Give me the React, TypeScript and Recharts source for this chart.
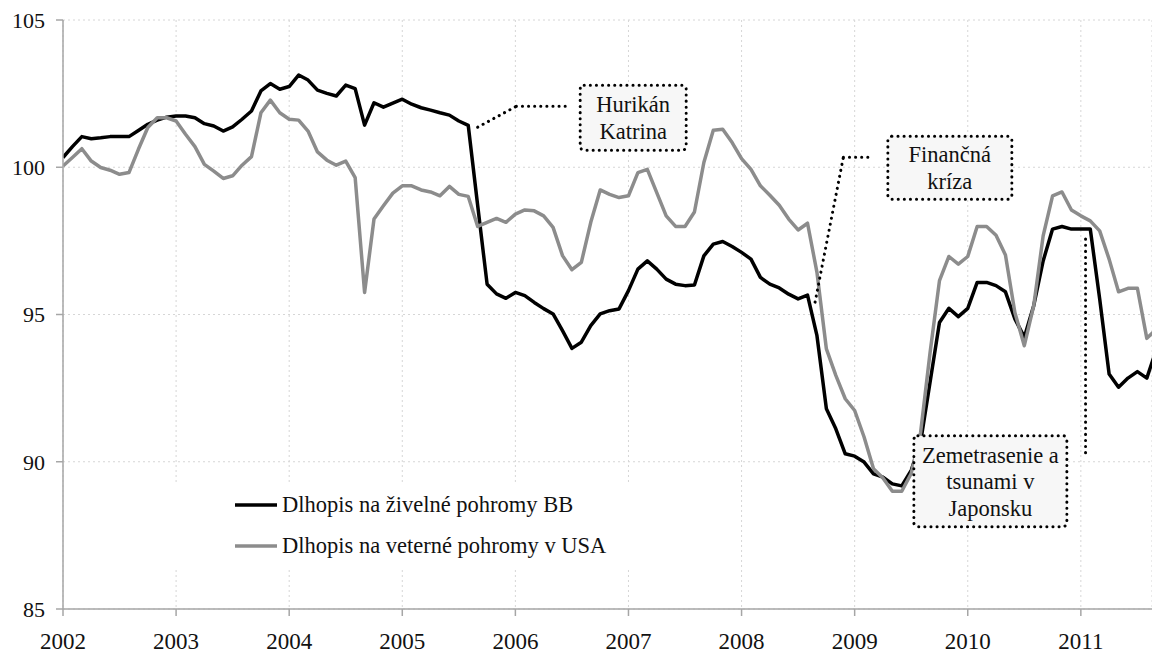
import React from "react";
import {
  LineChart,
  Line,
  XAxis,
  YAxis,
  CartesianGrid,
  Legend,
  ReferenceLine,
  ReferenceDot
} from "recharts";

// tick labels
const years = ["2002", "2003", "2004", "2005", "2006", "2007", "2008", "2009", "2010", "2011"];
const yTicks = [85, 90, 95, 100, 105];

// monthly index values, Jan 2002 onwards
const catBondBB = [
  100.33, 100.7, 101.04, 100.97, 101.0, 101.04, 101.04, 101.04, 101.25, 101.46, 101.6, 101.7,
  101.74, 101.74, 101.68, 101.48, 101.4, 101.23, 101.37, 101.63, 101.91, 102.59, 102.84, 102.65,
  102.74, 103.13, 102.96, 102.62, 102.51, 102.42, 102.79, 102.67, 101.43, 102.19, 102.04, 102.18,
  102.31, 102.14, 102.02, 101.94, 101.85, 101.77, 101.57, 101.42, 98.7, 96.03, 95.7, 95.55,
  95.75, 95.64, 95.41, 95.2, 95.02, 94.45, 93.85, 94.06, 94.62, 95.02, 95.13, 95.19,
  95.81, 96.54, 96.82, 96.54, 96.2, 96.03, 95.98, 96.0, 96.99, 97.39, 97.48, 97.31,
  97.11, 96.88, 96.26, 96.03, 95.9, 95.69, 95.53, 95.66, 94.28, 91.8, 91.12, 90.27,
  90.19, 89.99, 89.59, 89.48, 89.25, 89.18, 89.71, 90.67, 92.7, 94.73, 95.21, 94.93,
  95.21, 96.09, 96.09, 95.98, 95.77, 94.85, 94.23, 95.3, 96.82, 97.9, 97.99, 97.9,
  97.9, 97.9, 95.53, 92.98, 92.53, 92.84, 93.06, 92.84, 93.8
];

const windBondUSA = [
  100.04, 100.33, 100.63, 100.21, 99.99, 99.9, 99.76, 99.82, 100.61, 101.35, 101.68, 101.68,
  101.57, 101.12, 100.7, 100.1, 99.87, 99.62, 99.71, 100.07, 100.36, 101.85, 102.28, 101.85,
  101.63, 101.6, 101.23, 100.52, 100.24, 100.07, 100.21, 99.65, 95.75, 98.24, 98.69, 99.12,
  99.37, 99.37, 99.23, 99.16, 99.03, 99.35, 99.08, 99.01, 97.99, 98.13, 98.26, 98.13,
  98.41, 98.55, 98.52, 98.35, 97.96, 97.0, 96.52, 96.77, 98.13, 99.23, 99.08, 98.97,
  99.03, 99.82, 99.93, 99.14, 98.35, 97.99, 97.99, 98.48, 100.16, 101.26, 101.29, 100.84,
  100.29, 99.93, 99.37, 99.05, 98.71, 98.24, 97.87, 98.1, 96.43, 93.83, 92.93, 92.14,
  91.74, 90.84, 89.76, 89.45, 89.0, 89.0, 89.6, 91.0, 93.7, 96.15, 96.97, 96.71,
  96.97, 97.99, 97.99, 97.69, 97.02, 95.07, 93.94, 95.3, 97.67, 99.03, 99.16, 98.55,
  98.35, 98.18, 97.84, 96.88, 95.77, 95.89, 95.89, 94.19, 94.5
];

const seriesNames = ["Dlhopis na živelné pohromy BB", "Dlhopis na veterné pohromy v USA"];

const data = catBondBB.map((v, i) => ({ m: i, bb: v, usa: windBondUSA[i] }));

// annotation anchors in data units (month index, value)
const katrinaLeader = [[44.0, 101.36], [48.1, 102.07], [53.3, 102.07]];
const crisisLeader = [[79.8, 95.42], [82.8, 100.34], [85.6, 100.34]];
const quakeLeader = [[108.5, 97.56], [108.5, 90.2]];

const notes = [
  { m: 60.5, v: 101.68, lines: ["Hurikán", "Katrina"], w: 106, h: 65 },
  { m: 94.1, v: 99.98, lines: ["Finančná", "kríza"], w: 124, h: 63 },
  { m: 98.4, v: 89.34, lines: ["Zemetrasenie a", "tsunami v", "Japonsku"], w: 153, h: 91 }
];

const FONT = '"Liberation Serif", "Times New Roman", Times, serif';
const AXIS = "#a6a6a6";

const dotted = {
  stroke: "#000",
  strokeWidth: 3,
  strokeDasharray: "0.1 6",
  strokeLinecap: "round" as const
};

const noteShape = (lines: string[], w: number, h: number) => (props: any) => {
  const { cx, cy } = props;
  const gap = 26.5;
  const first = cy - ((lines.length - 1) * gap) / 2;
  return (
    <g>
      <rect x={cx - w / 2} y={cy - h / 2} width={w} height={h} rx={4} fill="#f7f7f7" {...dotted} />
      <text textAnchor="middle" style={{ fontFamily: FONT, fontSize: 22.5 }} fill="#111">
        {lines.map((t, k) => (
          <tspan key={t} x={cx} y={first + k * gap} dy="0.35em">
            {t}
          </tspan>
        ))}
      </text>
    </g>
  );
};

const LegendBox = (props: any) => {
  const items = [...(props.payload || [])].sort(
    (a: any, b: any) => seriesNames.indexOf(a.value) - seriesNames.indexOf(b.value)
  );
  return (
    <div
      style={{
        background: "#fff",
        width: 550,
        height: 85,
        paddingLeft: 85,
        paddingTop: 2,
        boxSizing: "border-box",
        fontFamily: FONT,
        fontSize: 22.5,
        color: "#111",
        textAlign: "left"
      }}
    >
      {items.map((p: any) => (
        <div key={p.value} style={{ display: "flex", alignItems: "center", height: 41.5 }}>
          <svg width={42} height={6} style={{ marginRight: 5 }}>
            <line x1={0} y1={3} x2={42} y2={3} stroke={p.color} strokeWidth={3.5} />
          </svg>
          <span>{p.value}</span>
        </div>
      ))}
    </div>
  );
};

const leaderLines = (pts: number[][], key: string) =>
  pts.slice(1).map((p, k) => (
    <ReferenceLine
      key={key + k}
      segment={[
        { x: pts[k][0], y: pts[k][1] },
        { x: p[0], y: p[1] }
      ]}
      ifOverflow="visible"
      {...dotted}
    />
  ));

export default function App() {
  return (
    <div
      style={{
        position: "fixed",
        left: 0,
        top: 0,
        width: 1152,
        height: 654,
        background: "#fff",
        fontFamily: FONT
      }}
    >
      <LineChart
        width={1152}
        height={654}
        data={data}
        margin={{ top: 20, right: 0, left: 0, bottom: 0 }}
        style={{ fontFamily: FONT }}
      >
        <CartesianGrid stroke="#d6d6d6" strokeDasharray="2 3" />
        <XAxis
          dataKey="m"
          type="number"
          domain={[0, 115.55]}
          allowDataOverflow
          ticks={years.map((_, i) => i * 12)}
          tickFormatter={(v: number) => years[Math.round(v / 12)]}
          height={45}
          tickSize={7}
          tickMargin={17}
          stroke={AXIS}
          strokeWidth={1.5}
          tick={{ fill: "#111", fontSize: 23, style: { fontFamily: FONT } }}
        />
        <YAxis
          type="number"
          domain={[85, 105]}
          ticks={yTicks}
          width={63}
          tickSize={7}
          tickMargin={11}
          stroke={AXIS}
          strokeWidth={1.5}
          tick={{ fill: "#111", fontSize: 22, style: { fontFamily: FONT } }}
        />
        <Line
          type="linear"
          dataKey="bb"
          name={seriesNames[0]}
          stroke="#000"
          strokeWidth={3.5}
          strokeLinejoin="round"
          dot={false}
          activeDot={false}
          isAnimationActive={false}
        />
        <Line
          type="linear"
          dataKey="usa"
          name={seriesNames[1]}
          stroke="#8c8c8c"
          strokeWidth={3.5}
          strokeLinejoin="round"
          dot={false}
          activeDot={false}
          isAnimationActive={false}
        />
        {leaderLines(katrinaLeader, "k")}
        {leaderLines(crisisLeader, "c")}
        {leaderLines(quakeLeader, "q")}
        {notes.map((n) => (
          <ReferenceDot
            key={n.lines[0]}
            x={n.m}
            y={n.v}
            ifOverflow="visible"
            shape={noteShape(n.lines, n.w, n.h)}
          />
        ))}
        <Legend
          layout="horizontal"
          verticalAlign="middle"
          align="center"
          content={<LegendBox />}
          wrapperStyle={{ left: 150, top: 482, width: 550, height: 85 }}
        />
      </LineChart>
    </div>
  );
}
